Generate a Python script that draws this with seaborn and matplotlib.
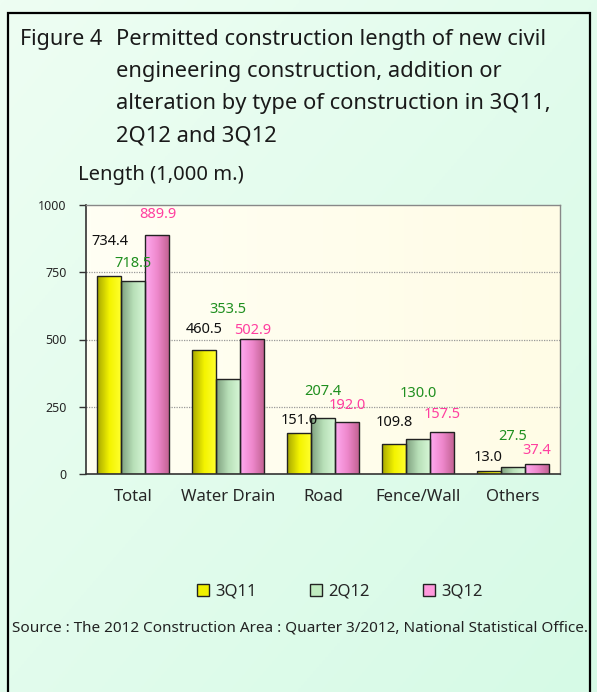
import numpy as np
import pandas as pd
import matplotlib
matplotlib.use("Agg")
import matplotlib.pyplot as plt
import seaborn as sns
from matplotlib.patches import Rectangle, Patch
from matplotlib.colors import LinearSegmentedColormap

categories = ["Total", "Water Drain", "Road", "Fence/Wall", "Others"]
series = ["3Q11", "2Q12", "3Q12"]
v_3q11 = [734.4, 460.5, 151.0, 109.8, 13.0]
v_2q12 = [718.5, 353.5, 207.4, 130.0, 27.5]
v_3q12 = [889.9, 502.9, 192.0, 157.5, 37.4]
# label heights (manual label placement in the original chart)
lab_3q11 = [866, 539, 200, 190, 63]
lab_2q12 = [784, 610, 305, 301, 138]
lab_3q12 = [963, 535, 256, 223, 89]
yticks = [0, 250, 500, 750, 1000]

W, H = 597, 692
sns.set_theme(style="white")
plt.rcParams['font.family'] = ['Noto Sans', 'DejaVu Sans']

df = pd.DataFrame({
    "cat": categories * 3,
    "series": [s for s in series for _ in categories],
    "val": v_3q11 + v_2q12 + v_3q12,
})

fig = plt.figure(figsize=(W / 100, H / 100), dpi=100)

# background gradient
bg = fig.add_axes([0, 0, 1, 1], zorder=-10)
gx, gy = np.meshgrid(np.linspace(0, 1, 200), np.linspace(0, 1, 200))
grad = 0.5 * gx + 0.5 * (1 - gy)
bgcmap = LinearSegmentedColormap.from_list("bg", ["#eefef3", "#d6fae6"])
bg.imshow(grad, cmap=bgcmap, extent=[0, 1, 0, 1], aspect="auto", origin="lower")
bg.set_axis_off()
fig.patches.append(Rectangle((8 / W, -0.01), (590 - 8) / W, 1 - 13 / H + 0.01,
                             transform=fig.transFigure, fill=False,
                             edgecolor="black", linewidth=1.6, zorder=5))

L, R, T, B = 86, 560, 205, 474
ax = fig.add_axes([L / W, 1 - B / H, (R - L) / W, (B - T) / H])

pal = {"3Q11": "#f0f000", "2Q12": "#c0ecc0", "3Q12": "#ff99dd"}
sns.barplot(data=df, x="cat", y="val", hue="series", order=categories,
            hue_order=series, palette=pal, width=0.76, ax=ax, legend=False,
            edgecolor="#222222", linewidth=1.0, saturation=1)

# plot area background
ax.set_facecolor("none")
pa = np.linspace(0, 1, 100)[None, :] * np.ones((10, 1))
pacmap = LinearSegmentedColormap.from_list("pa", ["#fffff4", "#fffce6"])
ax.imshow(pa, cmap=pacmap, extent=[-0.5, 4.5, 0, 1000], aspect="auto",
          origin="lower", zorder=-5)

grads = {
    "3Q11": ["#a8a800", "#f4f400", "#ffff30"],
    "2Q12": ["#7fa07f", "#b8e0b8", "#d8f8d8"],
    "3Q12": ["#ffaaf0", "#ee88cc", "#c06090"],
}
for cont, s in zip(ax.containers, series):
    cm = LinearSegmentedColormap.from_list(s, grads[s])
    for p in cont.patches:
        x0, y0 = p.get_x(), p.get_y()
        w, h = p.get_width(), p.get_height()
        im = ax.imshow(np.linspace(0, 1, 50)[None, :], cmap=cm,
                       extent=[x0, x0 + w, y0, y0 + h], aspect="auto",
                       origin="lower", zorder=p.get_zorder() - 0.1)
        im.set_clip_path(p)
        p.set_facecolor("none")

ax.set_xlim(-0.5, 4.5)
ax.set_ylim(0, 1000)
ax.set_yticks(yticks)
ax.set_yticklabels([str(t) for t in yticks], fontsize=9)
for t in [250, 500, 750]:
    ax.axhline(t, color="#999999", linestyle=(0, (1, 1)), linewidth=0.9, zorder=0)

ax.set_xticks(range(5))
ax.set_xticklabels(categories, fontsize=12)
ax.set_xticks(np.arange(-0.5, 5, 1), minor=True)
ax.tick_params(axis="x", which="major", length=0, pad=11)
ax.tick_params(axis="x", which="minor", length=5, width=1, color="#333333", direction="out")
ax.tick_params(axis="y", length=5, width=1, color="#333333", direction="out", pad=9, left=True)
ax.set_xlabel("")
ax.set_ylabel("")
for sp in ["left", "bottom"]:
    ax.spines[sp].set_color("#333333")
    ax.spines[sp].set_linewidth(1.2)
for sp in ["top", "right"]:
    ax.spines[sp].set_color("#888888")
    ax.spines[sp].set_linewidth(1.0)

labcols = {"3Q11": "#111111", "2Q12": "#1f8f1f", "3Q12": "#ff3fa0"}
labs = {"3Q11": (v_3q11, lab_3q11), "2Q12": (v_2q12, lab_2q12), "3Q12": (v_3q12, lab_3q12)}
for cont, s in zip(ax.containers, series):
    vals, ys = labs[s]
    for p, v, yy in zip(cont.patches, vals, ys):
        ax.text(p.get_x() + p.get_width() / 2, yy, f"{v:.1f}", ha="center",
                va="center", fontsize=10.5, color=labcols[s], clip_on=False)

# titles
tc = "#1a1a1a"
fig.text(20 / W, 1 - 40 / H, "Figure 4", fontsize=15.5, color=tc, va="center", ha="left", weight="medium")
lines = ["Permitted construction length of new civil",
         "engineering construction, addition or",
         "alteration by type of construction in 3Q11,",
         "2Q12 and 3Q12"]
for i, ln in enumerate(lines):
    fig.text(116 / W, 1 - (40 + 32 * i) / H, ln, fontsize=15.8, color=tc,
             va="center", ha="left", weight="medium")
fig.text(78 / W, 1 - 175 / H, "Length (1,000 m.)", fontsize=14.5, color=tc,
         va="center", ha="left", weight="medium")

handles = [Patch(facecolor=pal[s], edgecolor="#222222", linewidth=1.0) for s in series]
fig.legend(handles, series, loc="center", bbox_to_anchor=(340 / W, 1 - 592 / H),
           ncol=3, frameon=False, fontsize=12, handlelength=0.7, handleheight=0.7,
           handletextpad=0.4, columnspacing=3.2)

fig.text(12 / W, 1 - 628 / H,
         "Source : The 2012 Construction Area : Quarter 3/2012, National Statistical Office.",
         fontsize=11.0, color="#222222", va="center", ha="left")

fig.savefig("out.png", dpi=100)
